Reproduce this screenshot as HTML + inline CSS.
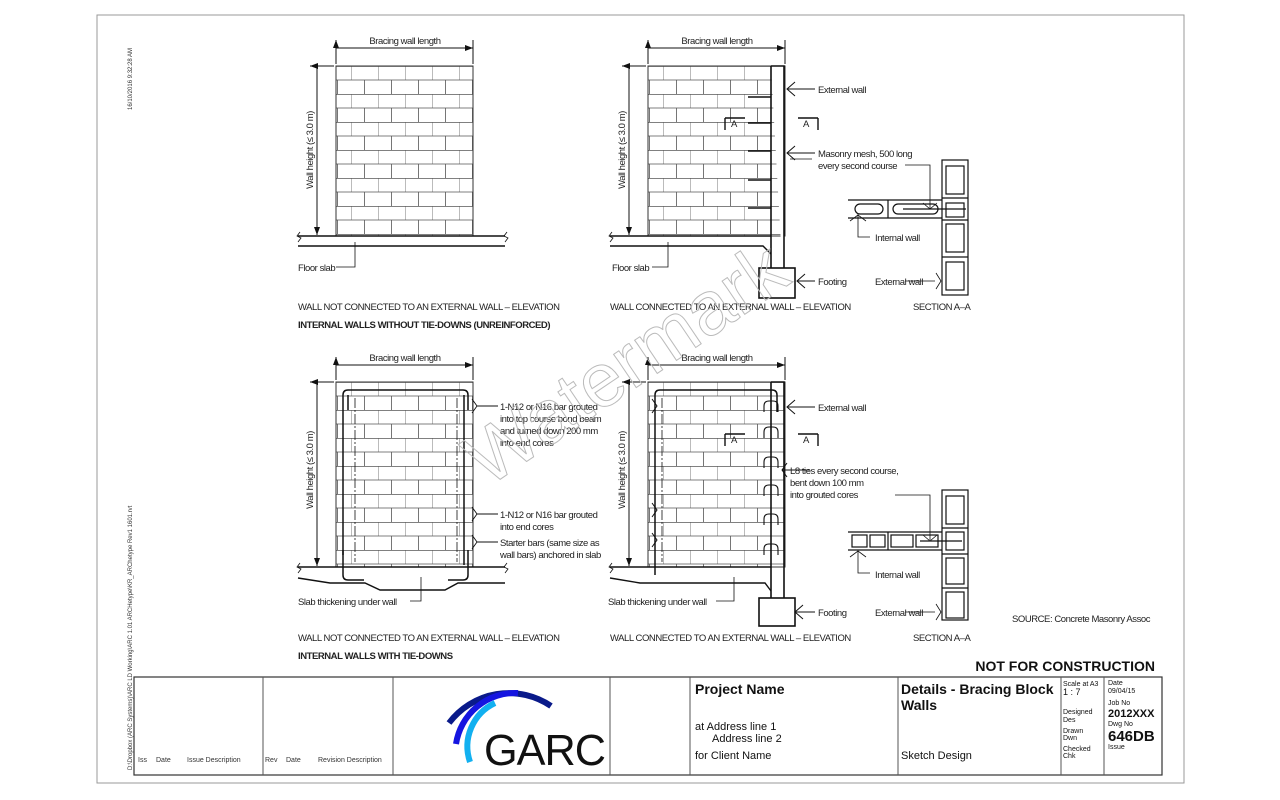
<!DOCTYPE html>
<html><head><meta charset="utf-8"><style>
html,body{margin:0;padding:0;background:#fff;}
svg{display:block;font-family:"Liberation Sans",sans-serif;}
.t{font-size:9.5px;fill:#222;letter-spacing:-0.45px;}
</style></head><body>
<svg width="1280" height="800" viewBox="0 0 1280 800" xmlns="http://www.w3.org/2000/svg">
<defs>
<pattern id="br" patternUnits="userSpaceOnUse" x="351" y="66" width="27" height="28">
<rect width="27" height="28" fill="#fff"/>
<path d="M0 0.3H27M0 14H27M0 0V14M13.5 14V28" stroke="#555" stroke-width="0.8" fill="none"/>
</pattern>
<pattern id="br2" patternUnits="userSpaceOnUse" x="351" y="382" width="27" height="28">
<rect width="27" height="28" fill="#fff"/>
<path d="M0 0.3H27M0 14H27M0 0V14M13.5 14V28" stroke="#555" stroke-width="0.8" fill="none"/>
</pattern>
<pattern id="br3" patternUnits="userSpaceOnUse" x="663" y="66" width="27" height="28">
<rect width="27" height="28" fill="#fff"/>
<path d="M0 0.3H27M0 14H27M0 0V14M13.5 14V28" stroke="#555" stroke-width="0.8" fill="none"/>
</pattern>
<pattern id="br4" patternUnits="userSpaceOnUse" x="663" y="382" width="27" height="28">
<rect width="27" height="28" fill="#fff"/>
<path d="M0 0.3H27M0 14H27M0 0V14M13.5 14V28" stroke="#555" stroke-width="0.8" fill="none"/>
</pattern>
<marker id="ar" markerWidth="8" markerHeight="6" refX="8" refY="3" orient="auto"><path d="M0 0L8 3L0 6z" fill="#111"/></marker>
<marker id="al" markerWidth="8" markerHeight="6" refX="0" refY="3" orient="auto"><path d="M8 0L0 3L8 6z" fill="#111"/></marker>
</defs>

<path d="M97 15H1184V783H97Z" fill="none" stroke="#999" stroke-width="1"/>
<text style="font-size:6px" fill="#333" transform="translate(132,110) rotate(-90)">16/10/2016 9:32:28 AM</text>
<text style="font-size:6px" fill="#333" transform="translate(132,770) rotate(-90)">D:\Dropbox (ARC Systems)\ARC LD Working\ARC 1.01 ARCHetype\KR_ARChetype Rev1 1601.rvt</text>

<g stroke="#111" fill="none" stroke-width="1">
<rect x="336" y="66" width="137" height="170" fill="url(#br)" stroke="#333"/>
<path d="M336 40V64M473 40V64M336 48H473" marker-start="url(#al)" marker-end="url(#ar)"/>
<path d="M310 66H334M317 67V235" marker-start="url(#al)" marker-end="url(#ar)"/>
<path d="M298 236H505M298 246H505" stroke-width="1.4"/>
<path d="M300 232l-3 4 4 2-3 4M507 232l-3 4 4 2-3 4" stroke-width="0.8"/>
<path d="M355 242V267H336" stroke-width="0.8"/>
<rect x="648" y="66" width="137" height="170" fill="url(#br3)" stroke="#333"/>
<path d="M771 66H784V298M771 66V298" stroke-width="1.6" fill="#fff"/>
<path d="M648 40V64M785 40V64M648 48H785" marker-start="url(#al)" marker-end="url(#ar)"/>
<path d="M622 66H646M629 67V235" marker-start="url(#al)" marker-end="url(#ar)"/>
<path d="M610 236H771M610 246H763l8 8" stroke-width="1.4"/>
<path d="M612 232l-3 4 4 2-3 4" stroke-width="0.8"/>
<path d="M668 242V267H652" stroke-width="0.8"/>
<rect x="759" y="268" width="36" height="30" stroke-width="1.6" fill="#fff"/>
<path d="M748 97H771M748 123H771M748 151H771M748 180H771M748 208H771" stroke-width="1.4"/>
<path d="M725 118V130M725 118H745M818 118V130M798 118H818" stroke-width="1.4"/>
<path d="M795 82l-8 7 8 7M787 89H815M795 146l-8 7 8 7M787 153H815M805 274l-8 7 8 7M797 281H815"/>
<path d="M790 159H812" stroke-width="0.8"/>
<g stroke-width="1.2">
<rect x="942" y="160" width="26" height="135"/>
<rect x="946" y="166" width="18" height="28"/>
<rect x="946" y="203" width="18" height="14"/>
<rect x="946" y="224" width="18" height="28"/>
<rect x="946" y="262" width="18" height="28"/>
<path d="M942 198H968M942 220H968M942 257H968"/>
<path d="M848 200H942M848 218H942M888 200V218"/>
<rect x="855" y="204" width="28" height="10" rx="5"/>
<rect x="893" y="204" width="45" height="10" rx="5"/>
</g>
<path d="M903 209H966" stroke-width="1.2"/>
<path d="M905 165H930V209M923 203l7 6 7-6" stroke-width="0.8"/>
<path d="M858 214V237H870M850 221l8-6 8 6" stroke-width="0.8"/>
<path d="M905 281H935M936 273l5 8-5 8" stroke-width="0.8"/>

<rect x="336" y="382" width="137" height="185" fill="url(#br2)" stroke="#333"/>
<path d="M343 555V395q0-5 5-5H463q5 0 5 5V410M348 410V395M464 395V565" stroke-width="1.5"/>
<path d="M355 398V562M457 398V562" stroke-dasharray="10 2 2 2" stroke-width="0.8"/>
<path d="M343 550V575q0 5 5 5H364M468 550V575q0 5-5 5H448" stroke-width="1.5"/>
<path d="M336 357V380M473 357V380M336 365H473" marker-start="url(#al)" marker-end="url(#ar)"/>
<path d="M310 382H334M317 383V566" marker-start="url(#al)" marker-end="url(#ar)"/>
<path d="M298 567H505M298 578L330 583H365L380 590H445L458 583H505" stroke-width="1.4"/>
<path d="M300 563l-3 4 4 2-3 4M507 563l-3 4 4 2-3 4" stroke-width="0.8"/>
<path d="M421 577V601H410" stroke-width="0.8"/>
<path d="M472 399l5 7-5 7M477 406H498M472 507l5 7-5 7M477 514H498M472 535l5 7-5 7M477 542H498" stroke-width="0.9"/>
<rect x="648" y="382" width="137" height="185" fill="url(#br4)" stroke="#333"/>
<path d="M771 382H784V600M771 382V600" stroke-width="1.6"/>
<path d="M655 575V395q0-5 5-5H772q5 0 5 5V412" stroke-width="1.5"/>
<path d="M662 398V562" stroke-dasharray="10 2 2 2" stroke-width="0.8"/>
<path d="M764 412V406q0-5 5-5h4q5 0 5 5v6M764 438v-6q0-5 5-5h4q5 0 5 5v6M764 468v-6q0-5 5-5h4q5 0 5 5v6M764 496v-6q0-5 5-5h4q5 0 5 5v6M764 525v-6q0-5 5-5h4q5 0 5 5v6M764 555v-6q0-5 5-5h4q5 0 5 5v6" stroke-width="1.1"/>
<path d="M648 357V380M785 357V380M648 365H785" marker-start="url(#al)" marker-end="url(#ar)"/>
<path d="M622 382H646M629 383V566" marker-start="url(#al)" marker-end="url(#ar)"/>
<path d="M610 567H771M610 578L640 583H765l6 8" stroke-width="1.4"/>
<path d="M612 563l-3 4 4 2-3 4" stroke-width="0.8"/>
<path d="M734 577V601H716" stroke-width="0.8"/>
<rect x="759" y="598" width="36" height="28" stroke-width="1.6" fill="#fff"/>
<path d="M725 434V446M725 434H745M818 434V446M798 434H818" stroke-width="1.4"/>
<path d="M795 400l-8 7 8 7M787 407H815M787 463l-5 7 5 7M782 470H810M803 605l-8 7 8 7M795 612H815M652 399l5 7-5 7M652 503l5 7-5 7M652 533l5 7-5 7"/>
<g stroke-width="1.2">
<rect x="942" y="490" width="26" height="130"/>
<rect x="946" y="496" width="18" height="28"/>
<rect x="946" y="532" width="18" height="18"/>
<rect x="946" y="558" width="18" height="26"/>
<rect x="946" y="592" width="18" height="26"/>
<path d="M942 528H968M942 554H968M942 588H968"/>
<path d="M848 532H942M848 550H942M888 532V550"/>
<rect x="852" y="535" width="15" height="12"/><rect x="870" y="535" width="15" height="12"/>
<rect x="891" y="535" width="22" height="12"/><rect x="916" y="535" width="22" height="12"/>
</g>
<path d="M920 541H962" stroke-width="1.2"/>
<path d="M895 495H930V540M923 535l7 6 7-6" stroke-width="0.8"/>
<path d="M858 550V573H870M850 557l8-6 8 6" stroke-width="0.8"/>
<path d="M905 612H935M936 604l5 8-5 8" stroke-width="0.8"/>
</g>

<g class="t">
<text x="405" y="44" text-anchor="middle">Bracing wall length</text>
<text x="717" y="44" text-anchor="middle">Bracing wall length</text>
<text x="405" y="361" text-anchor="middle">Bracing wall length</text>
<text x="717" y="361" text-anchor="middle">Bracing wall length</text>
<text transform="translate(313,150) rotate(-90)" text-anchor="middle">Wall height (≤ 3.0 m)</text>
<text transform="translate(625,150) rotate(-90)" text-anchor="middle">Wall height (≤ 3.0 m)</text>
<text transform="translate(313,470) rotate(-90)" text-anchor="middle">Wall height (≤ 3.0 m)</text>
<text transform="translate(625,470) rotate(-90)" text-anchor="middle">Wall height (≤ 3.0 m)</text>
<text x="298" y="271">Floor slab</text>
<text x="612" y="271">Floor slab</text>
<text x="818" y="93">External wall</text>
<text x="731" y="127">A</text><text x="803" y="127">A</text>
<text x="818" y="157">Masonry mesh, 500 long</text>
<text x="818" y="169">every second course</text>
<text x="818" y="285">Footing</text>
<text x="875" y="241">Internal wall</text>
<text x="875" y="285">External wall</text>
<text x="298" y="310">WALL NOT CONNECTED TO AN EXTERNAL WALL – ELEVATION</text>
<text x="298" y="328" font-weight="bold">INTERNAL WALLS WITHOUT TIE-DOWNS (UNREINFORCED)</text>
<text x="610" y="310">WALL CONNECTED TO AN EXTERNAL WALL – ELEVATION</text>
<text x="913" y="310">SECTION A–A</text>
<text x="500" y="410">1-N12 or N16 bar grouted</text>
<text x="500" y="422">into top course bond beam</text>
<text x="500" y="434">and turned down 200 mm</text>
<text x="500" y="446">into end cores</text>
<text x="500" y="518">1-N12 or N16 bar grouted</text>
<text x="500" y="530">into end cores</text>
<text x="500" y="546">Starter bars (same size as</text>
<text x="500" y="558">wall bars) anchored in slab</text>
<text x="298" y="605">Slab thickening under wall</text>
<text x="608" y="605">Slab thickening under wall</text>
<text x="818" y="411">External wall</text>
<text x="731" y="443">A</text><text x="803" y="443">A</text>
<text x="790" y="474">L8 ties every second course,</text>
<text x="790" y="486">bent down 100 mm</text>
<text x="790" y="498">into grouted cores</text>
<text x="818" y="616">Footing</text>
<text x="875" y="578">Internal wall</text>
<text x="875" y="616">External wall</text>
<text x="1012" y="622">SOURCE: Concrete Masonry  Assoc</text>
<text x="298" y="641">WALL NOT CONNECTED TO AN EXTERNAL WALL – ELEVATION</text>
<text x="298" y="659" font-weight="bold">INTERNAL WALLS WITH TIE-DOWNS</text>
<text x="610" y="641">WALL CONNECTED TO AN EXTERNAL WALL – ELEVATION</text>
<text x="913" y="641">SECTION A–A</text>
</g>

<text x="0" y="0" transform="translate(640,385) rotate(-34)" text-anchor="middle" font-size="76" fill="none" stroke="#bbb" stroke-width="1" font-family="Liberation Sans,sans-serif">Watermark</text>

<text x="1155" y="671" text-anchor="end" font-size="14" font-weight="bold" fill="#111">NOT FOR CONSTRUCTION</text>
<g fill="none" stroke="#555">
<rect x="134" y="677" width="1028" height="98" stroke="#333" stroke-width="1.2"/>
<path d="M263 677V775M393 677V775M610 677V775M690 677V775M898 677V775M1061 677V775M1104 677V775"/>
</g>
<g font-size="7" fill="#333">
<text x="138" y="762">Iss</text><text x="156" y="762">Date</text><text x="187" y="762">Issue Description</text>
<text x="265" y="762">Rev</text><text x="286" y="762">Date</text><text x="318" y="762">Revision Description</text>
</g>
<g fill="none" stroke-width="6">
<path d="M449 723A75 75 0 0 1 551 706" stroke="#0a1a8a"/>
<path d="M456 744A60 60 0 0 1 518 693" stroke="#1515e0"/>
<path d="M470 762A48 48 0 0 1 495 703" stroke="#12b0f0"/>
</g>
<text x="484" y="765" font-size="44" fill="#111" letter-spacing="-1" textLength="121" lengthAdjust="spacingAndGlyphs">GARC</text>
<g fill="#111">
<text x="695" y="694" font-size="14" font-weight="bold">Project Name</text>
<text x="695" y="730" font-size="11">at  Address line 1</text>
<text x="712" y="742" font-size="11">Address line 2</text>
<text x="695" y="759" font-size="11">for Client Name</text>
<text x="901" y="694" font-size="14" font-weight="bold">Details - Bracing Block</text>
<text x="901" y="710" font-size="14" font-weight="bold">Walls</text>
<text x="901" y="759" font-size="11">Sketch Design</text>
<g font-size="7">
<text x="1063" y="686">Scale at A3</text><text x="1063" y="695" font-size="9">1 : 7</text>
<text x="1063" y="714">Designed</text><text x="1063" y="722">Des</text>
<text x="1063" y="733">Drawn</text><text x="1063" y="740">Dwn</text>
<text x="1063" y="751">Checked</text><text x="1063" y="758">Chk</text>
<text x="1108" y="685">Date</text><text x="1108" y="693">09/04/15</text>
<text x="1108" y="705">Job No</text>
<text x="1108" y="726">Dwg No</text>
<text x="1108" y="749">Issue</text>
</g>
<text x="1108" y="717" font-size="11" font-weight="bold">2012XXX</text>
<text x="1108" y="741" font-size="15" font-weight="bold">646DB</text>
</g>
</svg>
</body></html>
